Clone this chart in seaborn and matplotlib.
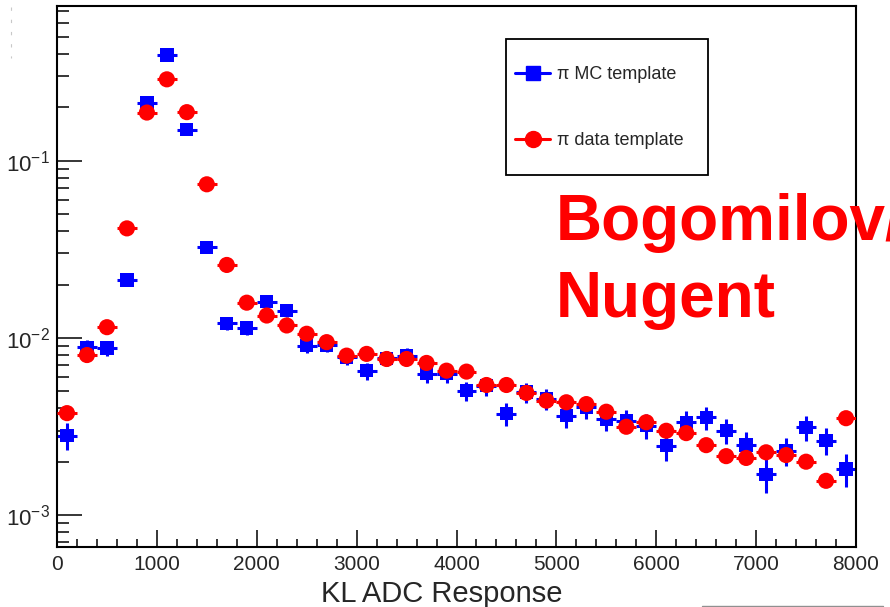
import numpy as np
import pandas as pd
import matplotlib
matplotlib.use('Agg')
import matplotlib.pyplot as plt
import seaborn as sns
from matplotlib.ticker import LogLocator, MultipleLocator, NullFormatter
from matplotlib.lines import Line2D
from matplotlib.patches import Rectangle

# ---------------- data ----------------
bin_centers = [100, 300, 500, 700, 900, 1100, 1300, 1500, 1700, 1900,
               2100, 2300, 2500, 2700, 2900, 3100, 3300, 3500, 3700, 3900,
               4100, 4300, 4500, 4700, 4900, 5100, 5300, 5500, 5700, 5900,
               6100, 6300, 6500, 6700, 6900, 7100, 7300, 7500, 7700, 7900]
bin_half_width = 100

mc_values = [0.00281, 0.00886, 0.00875, 0.0212, 0.212, 0.395, 0.150, 0.0324, 0.0121, 0.01135,
             0.0160, 0.01426, 0.00905, 0.00913, 0.00778, 0.00653, 0.00768, 0.00794, 0.00627, 0.00627,
             0.00504, 0.00537, 0.00373, 0.00494, 0.00452, 0.00364, 0.00406, 0.00349, 0.00341, 0.00320,
             0.00246, 0.00334, 0.00356, 0.00299, 0.00248, 0.00170, 0.00231, 0.00313, 0.00263, 0.00182]
mc_rel_err = [0.17, 0.094, 0.095, 0.06, 0.02, 0.014, 0.023, 0.05, 0.08, 0.083,
              0.07, 0.075, 0.094, 0.093, 0.10, 0.11, 0.10, 0.10, 0.11, 0.11,
              0.125, 0.12, 0.146, 0.127, 0.132, 0.147, 0.14, 0.15, 0.152, 0.157,
              0.18, 0.154, 0.149, 0.163, 0.18, 0.216, 0.185, 0.159, 0.174, 0.209]

data_values = [0.00376, 0.0080, 0.01149, 0.0415, 0.187, 0.288, 0.188, 0.0736, 0.0258, 0.0158,
               0.01337, 0.01175, 0.01055, 0.00946, 0.00794, 0.00812, 0.0076, 0.0076, 0.00722, 0.00653,
               0.00645, 0.00542, 0.00542, 0.00489, 0.00442, 0.00433, 0.00423, 0.00383, 0.00315, 0.00334,
               0.00299, 0.00290, 0.00248, 0.00215, 0.00210, 0.00226, 0.00218, 0.00200, 0.00156, 0.00352]

x_ticks = [0, 1000, 2000, 3000, 4000, 5000, 6000, 7000, 8000]
x_tick_labels = ['0', '1000', '2000', '3000', '4000', '5000', '6000', '7000', '8000']
y_ticks = [1e-3, 1e-2, 1e-1]
y_tick_labels = [r'$10^{-3}$', r'$10^{-2}$', r'$10^{-1}$']
series_labels = ['\u03c0 MC template', '\u03c0 data template']

# ---------------- style ----------------
sns.set_style('ticks')
plt.rcParams['font.family'] = ['Liberation Sans', 'DejaVu Sans']
plt.rcParams['mathtext.fontset'] = 'custom'
plt.rcParams['mathtext.rm'] = 'Liberation Sans'
plt.rcParams['mathtext.it'] = 'Liberation Sans:italic'
plt.rcParams['mathtext.bf'] = 'Liberation Sans:bold'

W, H = 890, 607
fig = plt.figure(figsize=(W / 100, H / 100), dpi=100)
fig.patch.set_facecolor('white')
ax = fig.add_axes([57 / W, 1 - 547 / H, (856 - 57) / W, (547 - 6) / H])

df_mc = pd.DataFrame({'x': bin_centers, 'y': mc_values})
df_mc['err'] = df_mc['y'] * np.array(mc_rel_err)
df_data = pd.DataFrame({'x': bin_centers, 'y': data_values})

BLUE = '#0000ff'
RED = '#ff0000'

ax.errorbar(df_mc['x'], df_mc['y'], xerr=bin_half_width, yerr=df_mc['err'],
            fmt='none', ecolor=BLUE, elinewidth=2.2, capsize=0, zorder=2)
sns.scatterplot(data=df_mc, x='x', y='y', marker='s', s=92, color=BLUE,
                edgecolor='none', linewidth=0, ax=ax, zorder=3, legend=False)
ax.errorbar(df_data['x'], df_data['y'], xerr=bin_half_width,
            fmt='none', ecolor=RED, elinewidth=2.2, capsize=0, zorder=4)
sns.scatterplot(data=df_data, x='x', y='y', marker='o', s=135, color=RED,
                edgecolor='none', linewidth=0, ax=ax, zorder=5, legend=False)

ax.set_yscale('log')
ax.set_xlim(0, 8000)
ax.set_ylim(6.6e-4, 0.747)

ax.set_xticks(x_ticks)
ax.set_xticklabels(x_tick_labels)
ax.xaxis.set_minor_locator(MultipleLocator(200))
ax.set_yticks(y_ticks)
ax.set_yticklabels(y_tick_labels)
ax.yaxis.set_minor_locator(LogLocator(base=10, subs=np.arange(2, 10) * 1.0, numticks=20))
ax.yaxis.set_minor_formatter(NullFormatter())

ax.tick_params(axis='x', which='major', direction='in', length=12, width=1.1,
               labelsize=15, pad=6, top=False, color='black')
ax.tick_params(axis='x', which='minor', direction='in', length=5.5, width=1.1, top=False, color='black')
ax.tick_params(axis='y', which='major', direction='in', length=18, width=1.1,
               labelsize=16, pad=5, right=False, color='black')
ax.tick_params(axis='y', which='minor', direction='in', length=8.6, width=1.1, right=False, color='black')
for sp in ax.spines.values():
    sp.set_linewidth(1.5)
    sp.set_color('black')
    sp.set_visible(True)

ax.set_ylabel('')
ax.set_xlabel('KL ADC Response', fontsize=21)
ax.xaxis.set_label_coords((441.5 - 57) / (856 - 57), (547 - 602) / (547 - 6))
ax.xaxis.label.set_va('baseline')

# legend
h_mc = Line2D([], [], color=BLUE, marker='s', markersize=9.6, lw=2.2)
h_data = Line2D([], [], color=RED, marker='o', markersize=11.5, lw=2.2)
leg = ax.legend([h_mc, h_data], series_labels, loc='upper left',
                bbox_to_anchor=(515 / W, 1 - 66 / H), bbox_transform=fig.transFigure,
                frameon=False, fontsize=13, handlelength=35 / 18, handletextpad=7 / 18,
                labelspacing=2.73, borderpad=0, borderaxespad=0)
fig.add_artist(Rectangle((506 / W, 1 - 175 / H), (708 - 506) / W, (175 - 39) / H,
                         transform=fig.transFigure, fill=False, edgecolor='black', lw=1.3))

# overlaid annotation
fig.text(556 / W, 1 - 240 / H, 'Bogomilov/', color=RED, fontsize=46, fontweight='bold',
         ha='left', va='baseline')
fig.text(556 / W, 1 - 317 / H, 'Nugent', color=RED, fontsize=46, fontweight='bold',
         ha='left', va='baseline')

# faint screenshot artefacts
fig.add_artist(Line2D([11 / W, 11 / W], [1 - 7 / H, 1 - 58 / H], ls=(0, (3, 8)),
                      color='#c8c8c8', lw=0.8, transform=fig.transFigure))
fig.add_artist(Line2D([702 / W, 883 / W], [1 - 606 / H, 1 - 606 / H],
                      color='#909090', lw=1.0, transform=fig.transFigure))

fig.savefig('out.png', dpi=100)
